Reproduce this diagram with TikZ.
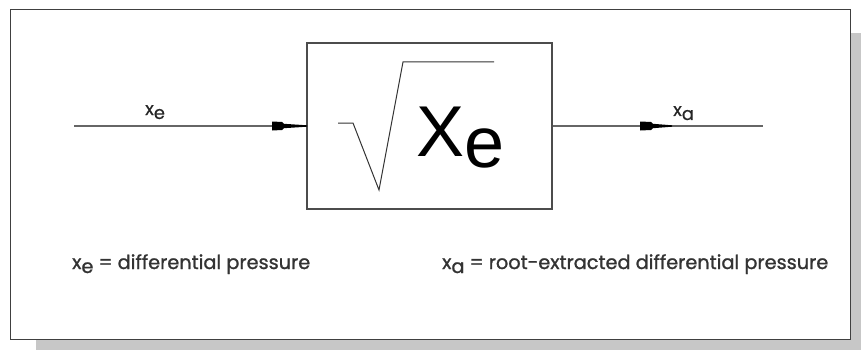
\documentclass[tikz,border=0pt]{standalone}
\usepackage{fontspec}
\setmainfont{Poppins}[FakeBold=0.6]
\newfontfamily\bigfont{Liberation Sans}
\newcommand\lowsb[1]{\raisebox{-4pt}{#1}}
\newcommand\biglowsb[1]{\raisebox{-11pt}{#1}}
\begin{document}
\begin{tikzpicture}[x=1pt,y=-1pt,
  frame/.style={draw=black!75,line width=1pt},
  shadow/.style={fill=black!22},
  blockbox/.style={draw=black!70,line width=1.2pt,minimum width=245pt,minimum height=166pt,inner sep=0pt},
  sig/.style={draw=black!60,line width=1.3pt},
  head/.style={fill=black},
  lbl/.style={font=\fontsize{18}{20}\selectfont,text=black!85,inner sep=0pt},
  note/.style={font=\fontsize{19.3}{22}\selectfont\addfontfeature{FakeBold=1.2},text=black!80,inner sep=0pt,anchor=base west}]
\useasboundingbox (0,0) rectangle (861,350);
% shadow and frame
\fill[shadow] (36,339) rectangle (861,350);
\fill[shadow] (850,33) rectangle (861,350);
\draw[frame] (10,10) rectangle (850,339);
% block
\node[blockbox] (blk) at (429.5,126) {};
\draw[black!80,line width=1pt] (338,123) -- (353,123) -- (379,190) -- (403,62) -- (494,62);
\node[inner sep=0pt,anchor=base west,font=\bigfont\fontsize{72}{72}\selectfont] (xe) at (416,156) {X\biglowsb{e}};
% signal lines
\coordinate (in) at (74,126);
\coordinate (out) at (763,126);
\draw[sig] (in) -- (blk.west);
\draw[sig] (blk.east) -- (out);
% arrow heads
\fill[head] (272,121.5) -- (282,122) -- (284,123.8) -- (307,125.3) -- (307,126.7) -- (284,128.2) -- (282,130) -- (272,130.5) -- cycle;
\fill[head] (640,121.5) -- (651,122) -- (653,123.8) -- (672,125.3) -- (672,126.7) -- (653,128.2) -- (651,130) -- (640,130.5) -- cycle;
% labels
\node[lbl,anchor=base west] (lin) at (145,115) {x\lowsb{e}};
\node[lbl,anchor=base west] (lout) at (673,116) {x\lowsb{a}};
\node[note] (n1) at (72,269) {x\lowsb{e} = differential pressure};
\node[note] (n2) at (442,269) {x\lowsb{a} = root-extracted differential pressure};
\end{tikzpicture}
\end{document}
